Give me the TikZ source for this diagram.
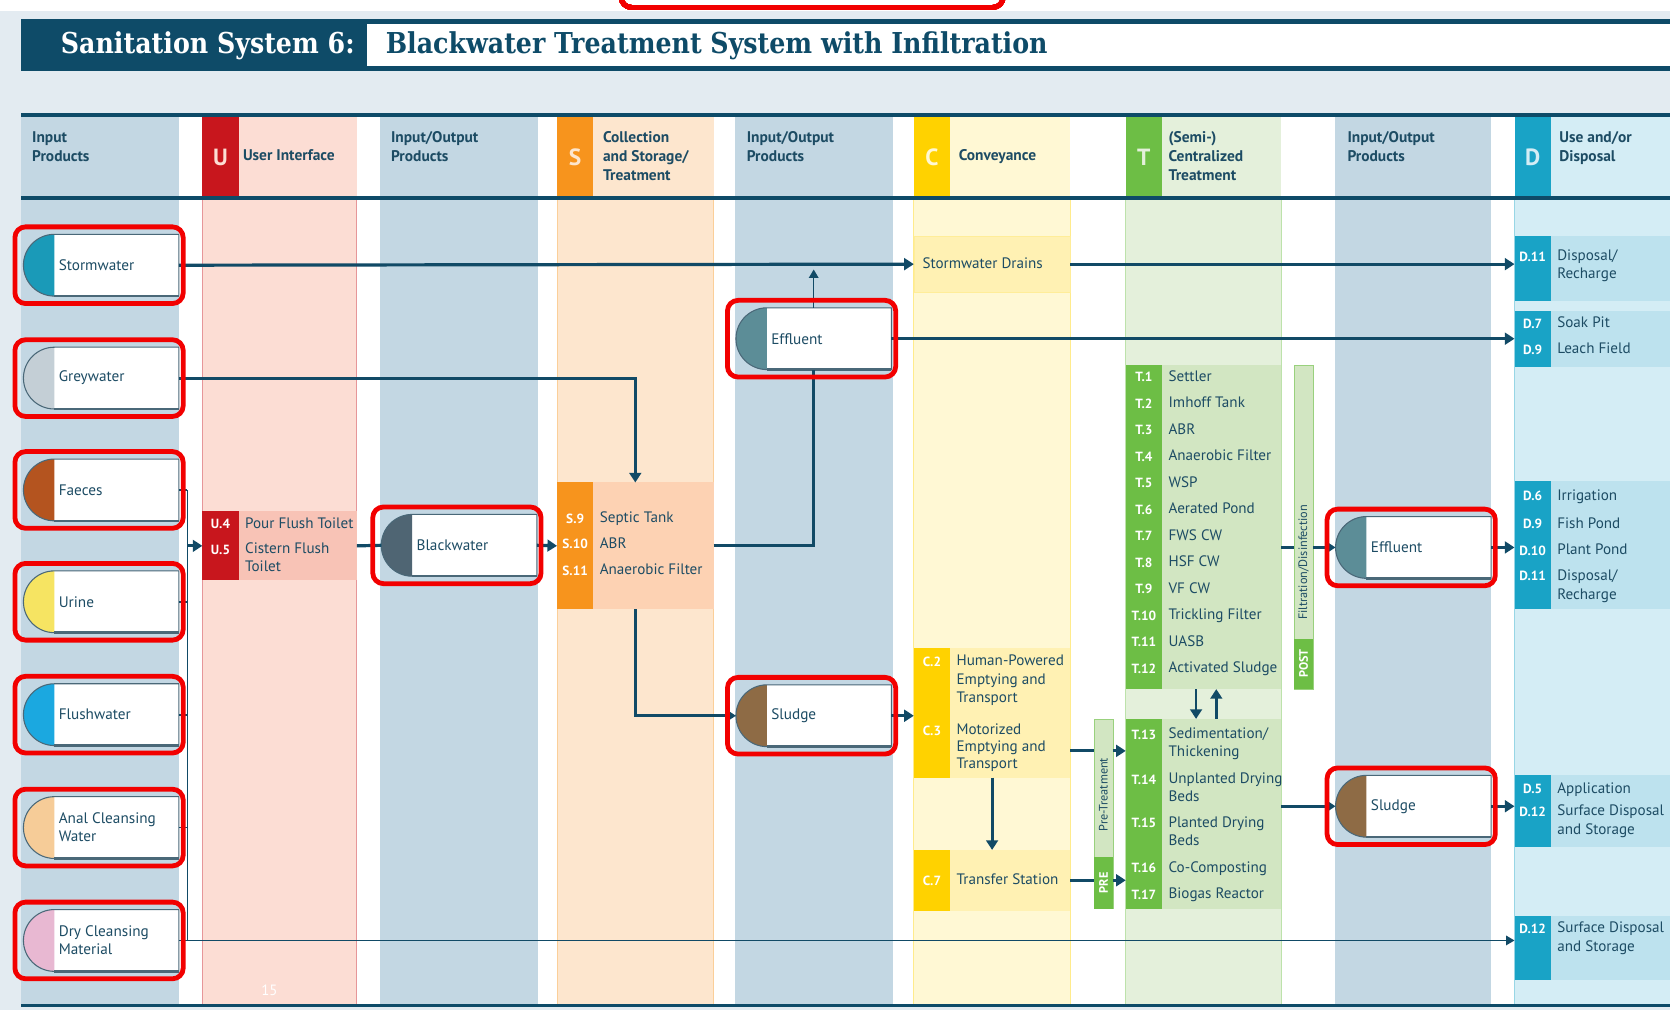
\documentclass[tikz,border=0pt]{standalone}
\usepackage{fontspec}
\setmainfont{PT Sans}
\newfontfamily\slabfont[FakeStretch=0.88]{DejaVu Serif}
\usetikzlibrary{arrows.meta,fit}

% colours of the sheet
\definecolor{bggrey}{HTML}{E3EBF1}
\definecolor{hdrblue}{HTML}{0E4B68}
\definecolor{lineblue}{HTML}{114A66}
\definecolor{textblue}{HTML}{1D4C64}
\definecolor{iocol}{HTML}{C3D7E3}
\definecolor{ured}{HTML}{C8161D}
\definecolor{upale}{HTML}{FCDDD4}
\definecolor{ufill}{HTML}{F8C3B6}
\definecolor{sorange}{HTML}{F7941D}
\definecolor{spale}{HTML}{FDE6CE}
\definecolor{sfill}{HTML}{FDD2B3}
\definecolor{cyellow}{HTML}{FFD200}
\definecolor{cpale}{HTML}{FFF8D4}
\definecolor{cfill}{HTML}{FFF1B3}
\definecolor{tgreen}{HTML}{6DBE45}
\definecolor{tpale}{HTML}{E4F0DB}
\definecolor{tfill}{HTML}{D2E6C2}
\definecolor{dcyan}{HTML}{19A3C6}
\definecolor{dpale}{HTML}{D4EDF5}
\definecolor{dfill}{HTML}{BDE2EE}
\definecolor{markred}{HTML}{F20000}
\definecolor{prodedge}{HTML}{4A6878}
% product colours
\definecolor{cstorm}{HTML}{1A9AB8}
\definecolor{cgrey}{HTML}{C4CFD6}
\definecolor{cfaeces}{HTML}{B4541F}
\definecolor{curine}{HTML}{F6E462}
\definecolor{cflush}{HTML}{1BA8E0}
\definecolor{canal}{HTML}{F6CC98}
\definecolor{cdry}{HTML}{E8B8D2}
\definecolor{cblack}{HTML}{4F6573}
\definecolor{ceff}{HTML}{5C8D97}
\definecolor{csludge}{HTML}{8E6B45}

\tikzset{
  flow/.style={draw=lineblue, line width=3pt},
  arr/.style={flow, -{Triangle[length=9pt,width=11pt]}},
  thinarr/.style={draw=lineblue, line width=1.4pt, -{Triangle[length=8pt,width=9pt]}},
  barline/.style={draw=lineblue, line width=1.6pt},
  techframe/.style={inner sep=0pt, outer sep=0pt},
  code/.style={text=white, font=\fontsize{12.5}{14}\selectfont\bfseries, inner sep=0pt},
  lbl/.style={text=textblue, font=\fontsize{14.2}{16}\selectfont, anchor=west, inner sep=0pt, text height=10.5pt, text depth=3pt},
  hdr/.style={text=textblue, font=\fontsize{14.5}{18}\selectfont\bfseries, anchor=north west, align=left, inner sep=0pt},
  prodframe/.style={minimum width=146pt, minimum height=58pt, inner sep=0pt, outer sep=0pt},
  prodtext/.style={text=textblue, font=\fontsize{14.3}{17}\selectfont, anchor=west, align=left, inner sep=0pt},
  prodline/.style={draw=prodedge, line width=1pt},
  redmark/.style={draw=markred, line width=4.5pt, rounded corners=10pt},
  barfill/.style={fill=tfill, draw=tgreen!70, line width=0.6pt}
}

% product with its round coloured end
\newcommand{\prodbox}[5]{%
  \node[prodframe] (#1) at (#2,#3) {};
  \fill[white] ([xshift=29pt]#1.north west) -- (#1.north east) -- (#1.south east) -- ([xshift=29pt]#1.south west) -- cycle;
  \fill[#4] ([xshift=29pt]#1.north west) arc[start angle=90, end angle=270, radius=29pt] -- cycle;
  \draw[prodline] ([xshift=29pt]#1.south west) arc[start angle=270, end angle=90, radius=29pt] -- (#1.north east) -- (#1.south east) -- cycle;
  \draw[draw=prodedge, line width=2.2pt] ([xshift=29pt]#1.south west) -- (#1.south east);
  \node[prodtext] (#1-txt) at ([xshift=33pt]#1.west) {#5};
}
% red marking round a product
\newcommand{\markbox}[1]{%
  \draw[redmark] ([xshift=-8pt,yshift=7pt]#1.north west) rectangle ([xshift=4pt,yshift=-7pt]#1.south east);
}
% technology box with coloured strip
\newcommand{\techbox}[7]{%
  \node[techframe, fill=#6, fit={(#2,#3) (#4,#5)}] (#1) {};
  \fill[#7] (#1.north west) rectangle ([xshift=34pt]#1.south west);
}
% rows of a technology box: left x, list of y/code/label
\newcommand{\techrows}[3]{%
  \foreach \y/\c/\t in {#3} {
    \node[code] (#1-c\y) at (#2+17,\y) {\c};
    \node[lbl] (#1-l\y) at (#2+40,\y) {\t};
  }
}

\begin{document}
\begin{tikzpicture}[x=1pt, y=-1pt]
\useasboundingbox (0,0) rectangle (1568,948);

% sheet and title bar
\fill[white] (0,0) rectangle (1568,948);
\fill[bggrey] (0,10) rectangle (1568,948);
\fill[hdrblue] (20,18) rectangle (1568,67);
\fill[white] (345,23) rectangle (1568,62);
\node[text=white, font=\slabfont\bfseries\fontsize{27}{30}\selectfont, anchor=west, inner sep=0pt] (systitle) at (57,43) {Sanitation System 6:};
\node[text=hdrblue, font=\slabfont\bfseries\fontsize{27}{30}\selectfont, anchor=west, inner sep=0pt] (title) at (362,43) {Blackwater Treatment System with Infiltration};

% table area
\fill[white] (20,108) rectangle (1568,944);
\foreach \xl/\xr in {20/168, 357/505, 690/838, 1253/1400}
  \fill[iocol] (\xl,110) rectangle (\xr,944);
\foreach \xl/\xr/\pale/\strong/\letter in {190/335/upale/ured/U, 523/670/spale/sorange/S, 858/1005/cpale/cyellow/C, 1057/1203/tpale/tgreen/T, 1422/1568/dpale/dcyan/D}
{
  \fill[\pale] (\xl,110) rectangle (\xr,944);
  \draw[draw=\strong!45, line width=0.8pt] (\xl,186) -- (\xl,944) (\xr,186) -- (\xr,944);
  \fill[\strong] (\xl,110) rectangle (\xl+34,186);
  \node[font=\fontsize{22}{24}\selectfont\bfseries, text=\pale] (let-\letter) at (\xl+17,148) {\letter};
}
\draw[hdrblue, line width=4pt] (20,108) -- (1568,108);
\draw[hdrblue, line width=3.5pt] (20,186) -- (1568,186);
\draw[hdrblue, line width=3pt] (20,944) -- (1568,944);

% column heads
\node[hdr] (h-in) at (30,123) {Input\\Products};
\node[hdr] (h-u) at (228,140) {User Interface};
\node[hdr] (h-io1) at (367,123) {Input/Output\\Products};
\node[hdr] (h-s) at (566,123) {Collection\\and Storage/\\Treatment};
\node[hdr] (h-io2) at (701,123) {Input/Output\\Products};
\node[hdr] (h-c) at (900,140) {Conveyance};
\node[hdr] (h-t) at (1097,123) {(Semi-)\\Centralized\\Treatment};
\node[hdr] (h-io3) at (1265,123) {Input/Output\\Products};
\node[hdr] (h-d) at (1464,123) {Use and/or\\Disposal};

% technology boxes
\techbox{ubox}{190}{480}{335}{545}{ufill}{ured}
\techrows{ubox}{190}{492/U.4/Pour Flush Toilet, 516/U.5/Cistern Flush, 533//Toilet}
\techbox{sbox}{523}{453}{670}{572}{sfill}{sorange}
\techrows{sbox}{523}{487/S.9/Septic Tank, 511/S.10/ABR, 536/S.11/Anaerobic Filter}
\node[techframe, fill=cfill, draw=cyellow!40, fit={(858,222) (1005,274)}] (drains) {};
\node[lbl] (drains-txt) at (866,248) {Stormwater Drains};
\techbox{cbox}{858}{608}{1005}{730}{cfill}{cyellow}
\techrows{cbox}{858}{621/C.2/Human-Powered, 639//Emptying and, 656//Transport, 686/C.3/Motorized, 702//Emptying and, 718//Transport}
\techbox{c7}{858}{798}{1005}{855}{cfill}{cyellow}
\techrows{c7}{858}{827/C.7/Transfer Station}
\techbox{t1}{1057}{343}{1203}{647}{tfill}{tgreen}
\foreach \t [count=\i] in {Settler, Imhoff Tank, ABR, Anaerobic Filter, WSP, Aerated Pond, FWS CW, HSF CW, VF CW, Trickling Filter, UASB, Activated Sludge}
{
  \node[code] (t1-c\i) at (1074,354+24.9*\i-24.9) {T.\i};
  \node[lbl] (t1-l\i) at (1097,354+24.9*\i-24.9) {\t};
}
\techbox{t2}{1057}{675}{1203}{853}{tfill}{tgreen}
\techrows{t2}{1057}{690/T.13/{Sedimentation/}, 707//Thickening, 732/T.14/Unplanted Drying, 749//Beds, 773/T.15/Planted Drying, 790//Beds, 815/T.16/Co-Composting, 840/T.17/Biogas Reactor}
\techbox{dsw}{1422}{222}{1568}{283}{dfill}{dcyan}
\techrows{dsw}{1422}{241/D.11/{Disposal/}, 258//Recharge}
\techbox{dsoak}{1422}{292}{1568}{345}{dfill}{dcyan}
\techrows{dsoak}{1422}{304/D.7/Soak Pit, 328/D.9/Leach Field}
\techbox{dirr}{1422}{452}{1568}{572}{dfill}{dcyan}
\techrows{dirr}{1422}{466/D.6/Irrigation, 492/D.9/Fish Pond, 517/D.10/Plant Pond, 541/D.11/{Disposal/}, 559//Recharge}
\techbox{dapp}{1422}{728}{1568}{795}{dfill}{dcyan}
\techrows{dapp}{1422}{741/D.5/Application, 762/D.12/Surface Disposal, 780//and Storage}
\techbox{dsurf}{1422}{860}{1568}{920}{dfill}{dcyan}
\techrows{dsurf}{1422}{872/D.12/Surface Disposal, 890//and Storage}

% pre- and post-treatment bars
\node[techframe, barfill, fit={(1215,343) (1233,647)}] (post) {};
\fill[tgreen] ([yshift=47pt]post.south west) rectangle (post.south east);
\node[rotate=90, text=white, font=\fontsize{11.5}{12}\selectfont\bfseries, inner sep=0pt] (post-a) at (1224,623) {POST};
\node[rotate=90, text=textblue, font=\fontsize{11.5}{12}\selectfont, inner sep=0pt] (post-b) at (1224,528) {Filtration/Disinfection};
\node[techframe, barfill, fit={(1027,675) (1045,853)}] (pre) {};
\fill[tgreen] ([yshift=48pt]pre.south west) rectangle (pre.south east);
\node[rotate=90, text=white, font=\fontsize{11.5}{12}\selectfont\bfseries, inner sep=0pt] (pre-a) at (1036,829) {PRE};
\node[rotate=90, text=textblue, font=\fontsize{11.5}{12}\selectfont, inner sep=0pt] (pre-b) at (1036,746) {Pre-Treatment};

% products
\prodbox{storm}{95}{249}{cstorm}{Stormwater}
\prodbox{grey}{95}{355}{cgrey}{Greywater}
\prodbox{faeces}{95}{460}{cfaeces}{Faeces}
\prodbox{urine}{95}{565}{curine}{Urine}
\prodbox{flush}{95}{671}{cflush}{Flushwater}
\prodbox{anal}{95}{777}{canal}{Anal Cleansing\\Water}
\prodbox{dry}{95}{883}{cdry}{Dry Cleansing\\Material}
\prodbox{black}{431}{512}{cblack}{Blackwater}
\prodbox{eff1}{764}{318}{ceff}{Effluent}
\prodbox{sludge1}{764}{672}{csludge}{Sludge}
\prodbox{eff2}{1327}{514}{ceff}{Effluent}
\prodbox{sludge2}{1327}{757}{csludge}{Sludge}

% connectors
\coordinate (bartop) at (176,460);
\coordinate (barbot) at (176,883);
\draw[barline] (bartop) -- (barbot);
\foreach \p in {faeces,urine,flush,anal,dry}
  \draw[barline] (\p.east) -- (\p.east -| bartop);
\draw[arr] (bartop |- ubox.west) -- (ubox.west);
\draw[thinarr] (dry.east) -- (dry.east -| dsurf.west);
\draw[arr] (storm.east) -- (drains.west);
\draw[arr] (drains.east) -- (drains.east -| dsw.west);
\coordinate (stormline) at (eff1.north |- storm.east);
\draw[thinarr] (eff1.north) -- ([yshift=-4pt]stormline);
\draw[arr] (eff1.east) -- (eff1.east -| dsoak.west);
\draw[arr] (grey.east) -| (sbox.north);
\draw[flow] (ubox.east) -- (black.west);
\draw[arr] (black.east) -- (sbox.west);
\draw[flow] (sbox.east) -| (eff1.south);
\draw[arr] (sbox.south) |- (sludge1.west);
\draw[arr] (sludge1.east) -- (sludge1.east -| cbox.west);
\draw[arr] (cbox.south) -- (c7.north);
\path (cbox.east) ++(0,36) coordinate (c3out);
\draw[flow] (c3out) -- (c3out -| pre.west);
\draw[arr] (c3out -| pre.east) -- (c3out -| t2.west);
\draw[flow] (c7.east) -- (c7.east -| pre.west);
\draw[arr] (c7.east -| pre.east) -- (c7.east -| t2.west);
\draw[arr, line width=2.4pt] ([xshift=-7pt]t1.south) -- ([xshift=-7pt]t2.north);
\draw[arr, line width=2.4pt] ([xshift=12pt]t2.north) -- ([xshift=12pt]t1.south);
\draw[flow] (t1.east |- eff2.west) -- (post.west |- eff2.west);
\draw[arr] (post.east |- eff2.west) -- (eff2.west);
\draw[arr] (eff2.east) -- (eff2.east -| dirr.west);
\draw[arr] (t2.east |- sludge2.west) -- (sludge2.west);
\draw[arr] (sludge2.east) -- (sludge2.east -| dapp.west);

% page number
\node[text=white, font=\fontsize{14}{16}\selectfont] (pagenum) at (253,930) {15};

% red markings
\foreach \p in {storm,grey,faeces,urine,flush,anal,dry,black,eff1,sludge1,eff2,sludge2}
  \markbox{\p}
\draw[redmark] (583,-40) rectangle (942,7);

\end{tikzpicture}
\end{document}
